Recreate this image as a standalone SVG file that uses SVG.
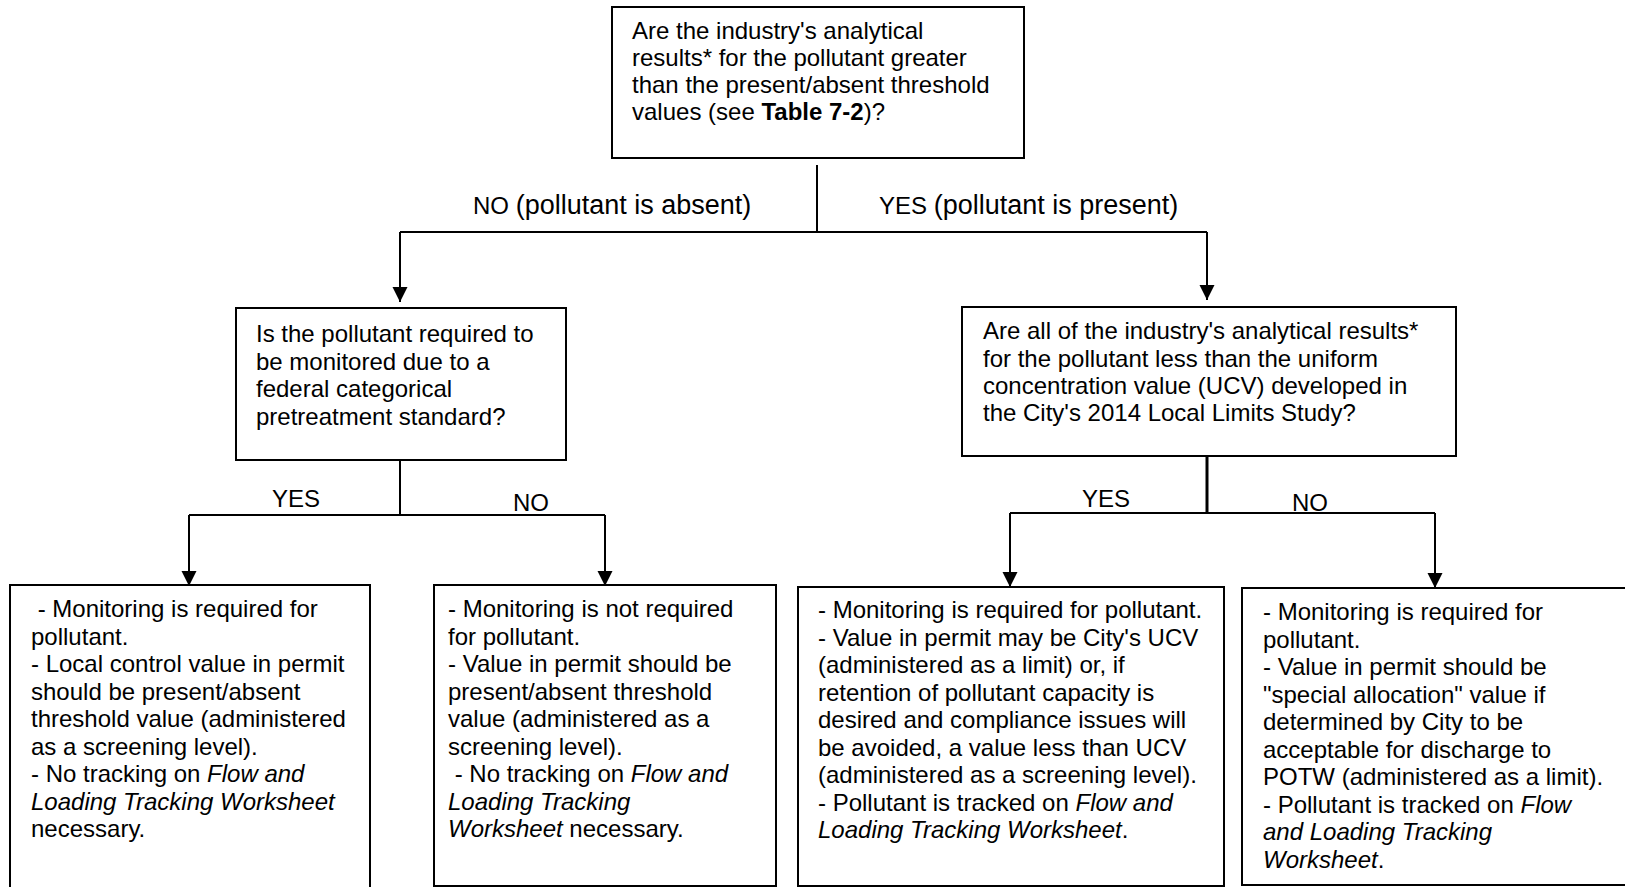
<svg xmlns="http://www.w3.org/2000/svg" width="1625" height="887" viewBox="0 0 1625 887">
<style>
  .box { fill: #ffffff; stroke: #000000; stroke-width: 2; }
  .t { font-family: "Liberation Sans", Arial, sans-serif; font-size: 24px; fill: #000000; }
  .lbl { font-family: "Liberation Sans", Arial, sans-serif; font-size: 24px; fill: #000000; }
  .big { font-size: 27px; }
  .i { font-style: italic; }
  .b { font-weight: bold; }
  .conn { fill: none; stroke: #000000; stroke-width: 2; }
</style>
<defs>
  <marker id="arrow" markerUnits="userSpaceOnUse" markerWidth="16" markerHeight="16" refX="15" refY="7.5" orient="auto">
    <path d="M0,0 L15,7.5 L0,15 Z" fill="#000000"/>
  </marker>
</defs>
<rect width="1625" height="887" fill="#ffffff"/>

<g id="connectors">
  <path class="conn" d="M817,165 V232"/>
  <path class="conn" d="M400,232 H1207"/>
  <path class="conn" d="M400,232 V302" marker-end="url(#arrow)"/>
  <path class="conn" d="M1207,232 V300" marker-end="url(#arrow)"/>
  <path class="conn" d="M400,460 V515"/>
  <path class="conn" d="M189,515 H605"/>
  <path class="conn" d="M189,515 V586" marker-end="url(#arrow)"/>
  <path class="conn" d="M605,515 V586" marker-end="url(#arrow)"/>
  <path class="conn" style="stroke-width:3" d="M1207,456 V513"/>
  <path class="conn" d="M1010,513 H1435"/>
  <path class="conn" d="M1010,513 V587" marker-end="url(#arrow)"/>
  <path class="conn" d="M1435,513 V588" marker-end="url(#arrow)"/>
  <text class="lbl" x="473" y="214">NO <tspan class="big">(pollutant is absent)</tspan></text>
  <text class="lbl" x="879" y="214">YES <tspan class="big">(pollutant is present)</tspan></text>
  <text class="lbl" x="272" y="507">YES</text>
  <text class="lbl" x="513" y="511">NO</text>
  <text class="lbl" x="1082" y="507">YES</text>
  <text class="lbl" x="1292" y="511">NO</text>
</g>

<g id="q1">
  <rect class="box" x="612" y="7" width="412" height="151"/>
  <text class="t" x="632" y="39">Are the industry's analytical</text>
  <text class="t" x="632" y="66">results* for the pollutant greater</text>
  <text class="t" x="632" y="93">than the present/absent threshold</text>
  <text class="t" x="632" y="120">values (see <tspan class="b">Table 7-2</tspan>)?</text>
</g>

<g id="q2">
  <rect class="box" x="236" y="308" width="330" height="152"/>
  <text class="t" x="256" y="342">Is the pollutant required to</text>
  <text class="t" x="256" y="370">be monitored due to a</text>
  <text class="t" x="256" y="397">federal categorical</text>
  <text class="t" x="256" y="425">pretreatment standard?</text>
</g>

<g id="q3">
  <rect class="box" x="962" y="307" width="494" height="149"/>
  <text class="t" x="983" y="339">Are all of the industry's analytical results*</text>
  <text class="t" x="983" y="367">for the pollutant less than the uniform</text>
  <text class="t" x="983" y="394">concentration value (UCV) developed in</text>
  <text class="t" x="983" y="421">the City's 2014 Local Limits Study?</text>
</g>

<g id="r1">
  <rect class="box" x="10" y="585" width="360" height="303"/>
  <text class="t" x="31" y="617">&#160;- Monitoring is required for</text>
  <text class="t" x="31" y="644.5">pollutant.</text>
  <text class="t" x="31" y="672">- Local control value in permit</text>
  <text class="t" x="31" y="699.5">should be present/absent</text>
  <text class="t" x="31" y="727">threshold value (administered</text>
  <text class="t" x="31" y="754.5">as a screening level).</text>
  <text class="t" x="31" y="782">- No tracking on <tspan class="i">Flow and</tspan></text>
  <text class="t i" x="31" y="809.5">Loading Tracking Worksheet</text>
  <text class="t" x="31" y="837">necessary.</text>
</g>

<g id="r2">
  <rect class="box" x="434" y="585" width="342" height="301"/>
  <text class="t" x="448" y="617">- Monitoring is not required</text>
  <text class="t" x="448" y="644.5">for pollutant.</text>
  <text class="t" x="448" y="672">- Value in permit should be</text>
  <text class="t" x="448" y="699.5">present/absent threshold</text>
  <text class="t" x="448" y="727">value (administered as a</text>
  <text class="t" x="448" y="754.5">screening level).</text>
  <text class="t" x="448" y="782">&#160;- No tracking on <tspan class="i">Flow and</tspan></text>
  <text class="t i" x="448" y="809.5">Loading Tracking</text>
  <text class="t" x="448" y="837"><tspan class="i">Worksheet</tspan> necessary.</text>
</g>

<g id="r3">
  <rect class="box" x="798" y="587" width="426" height="299"/>
  <text class="t" x="818" y="618">- Monitoring is required for pollutant.</text>
  <text class="t" x="818" y="645.5">- Value in permit may be City's UCV</text>
  <text class="t" x="818" y="673">(administered as a limit) or, if</text>
  <text class="t" x="818" y="700.5">retention of pollutant capacity is</text>
  <text class="t" x="818" y="728">desired and compliance issues will</text>
  <text class="t" x="818" y="755.5">be avoided, a value less than UCV</text>
  <text class="t" x="818" y="783">(administered as a screening level).</text>
  <text class="t" x="818" y="810.5">- Pollutant is tracked on <tspan class="i">Flow and</tspan></text>
  <text class="t" x="818" y="838"><tspan class="i">Loading Tracking Worksheet</tspan>.</text>
</g>

<g id="r4">
  <rect class="box" x="1242" y="588" width="390" height="297"/>
  <text class="t" x="1263" y="620">- Monitoring is required for</text>
  <text class="t" x="1263" y="647.5">pollutant.</text>
  <text class="t" x="1263" y="675">- Value in permit should be</text>
  <text class="t" x="1263" y="702.5">"special allocation" value if</text>
  <text class="t" x="1263" y="730">determined by City to be</text>
  <text class="t" x="1263" y="757.5">acceptable for discharge to</text>
  <text class="t" x="1263" y="785">POTW (administered as a limit).</text>
  <text class="t" x="1263" y="812.5">- Pollutant is tracked on <tspan class="i">Flow</tspan></text>
  <text class="t i" x="1263" y="840">and Loading Tracking</text>
  <text class="t" x="1263" y="867.5"><tspan class="i">Worksheet</tspan>.</text>
</g>
</svg>
